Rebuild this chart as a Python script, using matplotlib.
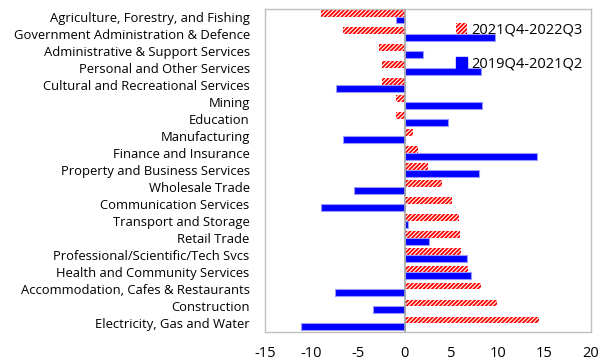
import matplotlib
matplotlib.use("Agg")
import matplotlib.pyplot as plt
import matplotlib.patches as mpatches
import numpy as np

plt.rcParams['font.family'] = ['Open Sans', 'DejaVu Sans']
plt.rcParams['hatch.color'] = '#FF0000'
plt.rcParams['hatch.linewidth'] = 1.3

industries = [
    "Agriculture, Forestry, and Fishing",
    "Government Administration & Defence",
    "Administrative & Support Services",
    "Personal and Other Services",
    "Cultural and Recreational Services",
    "Mining",
    "Education",
    "Manufacturing",
    "Finance and Insurance",
    "Property and Business Services",
    "Wholesale Trade",
    "Communication Services",
    "Transport and Storage",
    "Retail Trade",
    "Professional/Scientific/Tech Svcs",
    "Health and Community Services",
    "Accommodation, Cafes & Restaurants",
    "Construction",
    "Electricity, Gas and Water",
]

recent = [-9.0, -6.6, -2.8, -2.4, -2.4, -0.9, -0.9, 0.9, 1.4, 2.5, 4.0, 5.1,
          5.85, 5.9, 6.05, 6.75, 8.2, 9.9, 14.4]
pandemic = [-0.9, 9.7, 2.0, 8.2, -7.4, 8.35, 4.7, -6.6, 14.2, 8.0, -5.45, -9.0,
            0.4, 2.65, 6.65, 7.1, -7.45, -3.4, -11.1]

label_recent = "2021Q4-2022Q3"
label_pandemic = "2019Q4-2021Q2"
xticks = [-15, -10, -5, 0, 5, 10, 15, 20]

fig = plt.figure(figsize=(5.99, 3.62), dpi=100)
ax = fig.add_axes([265 / 599, 30 / 362, 326 / 599, 323 / 362])

y = np.arange(len(industries))
h = 0.40
ax.barh(y - h / 2, recent, height=h, color='white', edgecolor='#FF0000',
        hatch='////////', linewidth=0.0)
ax.barh(y + h / 2, pandemic, height=h, color='#0000FF', edgecolor='#9999FF',
        linewidth=0.8)

ax.axvline(0, color='#A6A6A6', linewidth=1.2, zorder=3)

ax.set_xlim(-15, 20)
ax.set_ylim(len(industries) - 0.5, -0.45)
ax.set_yticks(y)
ax.set_yticklabels(industries, fontsize=9.4)
ax.set_xticks(xticks)
ax.set_xticklabels([str(t) for t in xticks], fontsize=10.5)
ax.tick_params(axis='y', length=0, pad=11)
ax.tick_params(axis='x', length=0, pad=10)
for s in ax.spines.values():
    s.set_color('#BFBFBF')
    s.set_linewidth(1.0)

handles = [
    mpatches.Patch(facecolor='white', edgecolor='#FF0000', hatch='////////',
                   linewidth=0, label=label_recent),
    mpatches.Patch(facecolor='#0000FF', edgecolor='#0000FF', label=label_pandemic),
]
ax.legend(handles=handles, loc='upper right', bbox_to_anchor=(1.0, 0.985),
          frameon=False, fontsize=10.5, handlelength=0.7, handleheight=0.7,
          handletextpad=0.3, labelspacing=1.3, borderaxespad=0.2)

fig.savefig("out.png", dpi=100)
